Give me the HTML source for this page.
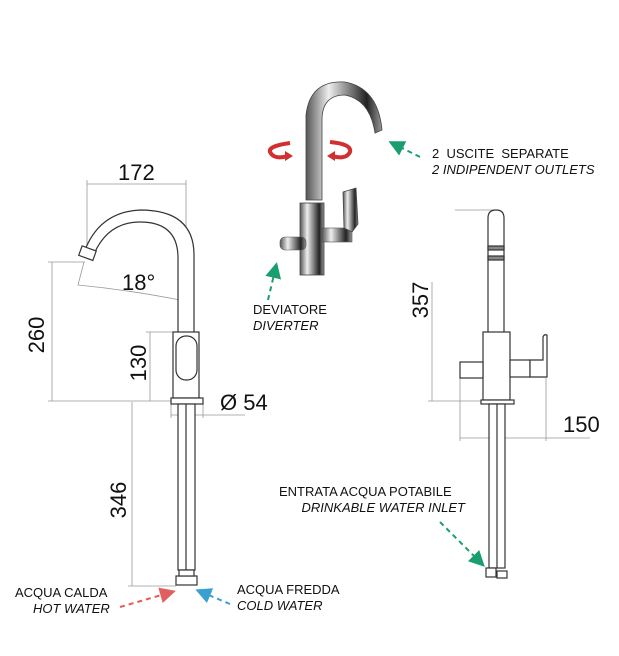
<!DOCTYPE html>
<html><head><meta charset="utf-8"><style>
html,body{margin:0;padding:0;background:#fff;}
svg{display:block;font-family:"Liberation Sans",sans-serif;}
</style></head><body>
<svg width="619" height="656" viewBox="0 0 619 656" xmlns="http://www.w3.org/2000/svg">
<defs>
<linearGradient id="chr" x1="0" x2="1" y1="0" y2="0">
<stop offset="0" stop-color="#555"/><stop offset="0.3" stop-color="#eee"/><stop offset="0.55" stop-color="#888"/><stop offset="0.8" stop-color="#222"/><stop offset="1" stop-color="#999"/>
</linearGradient>
<marker id="ag" markerWidth="8" markerHeight="8" refX="6" refY="4" orient="auto"><path d="M0,0 L8,4 L0,8z" fill="#1a9e6e"/></marker>
<marker id="ar" markerWidth="8" markerHeight="8" refX="6" refY="4" orient="auto"><path d="M0,0 L8,4 L0,8z" fill="#e06060"/></marker>
<marker id="ab" markerWidth="8" markerHeight="8" refX="6" refY="4" orient="auto"><path d="M0,0 L8,4 L0,8z" fill="#3aa0d0"/></marker>
</defs>

<!-- LEFT FAUCET -->
<g stroke="#999" stroke-width="0.8" fill="none">
<line x1="87" y1="184" x2="186" y2="184"/><line x1="87" y1="180" x2="87" y2="258"/><line x1="186" y1="180" x2="186" y2="255"/>
<line x1="52" y1="262" x2="52" y2="401"/><line x1="48" y1="262" x2="85" y2="262"/><line x1="48" y1="401" x2="172" y2="401"/>
<line x1="150" y1="332" x2="150" y2="401"/><line x1="146" y1="332" x2="173" y2="332"/>
<line x1="132" y1="402" x2="132" y2="586"/><line x1="128" y1="586" x2="176" y2="586"/>
<line x1="171" y1="415" x2="245" y2="415"/><line x1="171" y1="404" x2="171" y2="418"/><line x1="203" y1="404" x2="203" y2="418"/>
<path d="M84,262 L78,285 Q130,290 185,301"/>
</g>
<g stroke="#333" stroke-width="1.2" fill="#fff">
<path d="M194,332 L194,255 Q194,210 140,210 Q100,212 85,250 L94,254 Q108,222 140,222 Q178,222 178,258 L178,332"/>
<rect x="80" y="248" width="15" height="10" transform="rotate(20 87 253)"/>
<rect x="173" y="332" width="26" height="66"/>
<rect x="176" y="336" width="21" height="44" rx="10"/>
<rect x="171" y="398" width="32" height="6"/>
<rect x="178" y="404" width="17" height="166"/>
<line x1="186" y1="404" x2="186" y2="570"/>
<rect x="176" y="576" width="21" height="9"/>
<rect x="179" y="570" width="15" height="6"/>
</g>
<g font-size="22" fill="#111">
<text x="118" y="180">172</text>
<text x="122" y="290">18°</text>
<text x="220" y="410">Ø 54</text>
<text transform="translate(44,335) rotate(-90)" text-anchor="middle">260</text>
<text transform="translate(156,363) rotate(-90)" text-anchor="middle" x="0" y="-10">130</text>
<text transform="translate(126,500) rotate(-90)" text-anchor="middle">346</text>
</g>
<g font-size="13" fill="#111">
<text x="15" y="597">ACQUA CALDA</text>
<text x="33" y="613" font-style="italic">HOT WATER</text>
<text x="237" y="594">ACQUA FREDDA</text>
<text x="237" y="610" font-style="italic">COLD WATER</text>
</g>
<line x1="120" y1="607" x2="172" y2="592" stroke="#e06060" stroke-width="2" stroke-dasharray="5,4" marker-end="url(#ar)"/>
<line x1="230" y1="604" x2="199" y2="591" stroke="#3aa0d0" stroke-width="2" stroke-dasharray="5,4" marker-end="url(#ab)"/>

<!-- CENTER PHOTO -->
<path d="M306,200 L306,115 Q310,80 345,82 Q378,88 382,130 L375,133 Q370,100 345,95 Q322,95 322,120 L322,200z" fill="url(#chr)" stroke="#444" stroke-width="0.8"/>
<rect x="300" y="203" width="24" height="72" fill="url(#chr)" stroke="#444" stroke-width="0.8"/>
<rect x="280" y="237" width="26" height="13" rx="5" fill="url(#chr)" stroke="#555" stroke-width="0.6"/>
<rect x="322" y="228" width="30" height="14" fill="url(#chr)" stroke="#555" stroke-width="0.6"/>
<path d="M343,192 L356,188 L358,224 L352,232 L344,228z" fill="url(#chr)" stroke="#444" stroke-width="0.8"/>
<g fill="none" stroke="#d03030" stroke-width="4">
<path d="M290,143 Q268,146 270,152 Q274,160 288,156"/>
<path d="M330,142 Q352,144 350,152 Q346,160 332,156"/>
</g>
<path d="M285,151 L293,156 L285,161z" fill="#d03030"/>
<path d="M335,151 L327,156 L335,161z" fill="#d03030"/>
<line x1="420" y1="157" x2="392" y2="143" stroke="#1a9e6e" stroke-width="2" stroke-dasharray="5,4" marker-end="url(#ag)"/>
<line x1="268" y1="300" x2="276" y2="266" stroke="#1a9e6e" stroke-width="2" stroke-dasharray="5,4" marker-end="url(#ag)"/>
<g font-size="13" fill="#111">
<text x="432" y="158" xml:space="preserve">2  USCITE  SEPARATE</text>
<text x="432" y="174" font-style="italic">2 INDIPENDENT OUTLETS</text>
<text x="253" y="314">DEVIATORE</text>
<text x="253" y="330" font-style="italic">DIVERTER</text>
<text x="279" y="496">ENTRATA ACQUA POTABILE</text>
<text x="465" y="512" font-style="italic" text-anchor="end">DRINKABLE WATER INLET</text>
</g>
<line x1="440" y1="522" x2="482" y2="564" stroke="#1a9e6e" stroke-width="2" stroke-dasharray="5,4" marker-end="url(#ag)"/>

<!-- RIGHT FAUCET -->
<g stroke="#999" stroke-width="0.8" fill="none">
<line x1="455" y1="210" x2="496" y2="210"/>
<line x1="432" y1="282" x2="432" y2="401"/><line x1="428" y1="401" x2="482" y2="401"/>
<line x1="460" y1="438" x2="590" y2="438"/><line x1="460" y1="378" x2="460" y2="441"/><line x1="546" y1="378" x2="546" y2="441"/>
</g>
<g stroke="#333" stroke-width="1.2" fill="#fff">
<path d="M488,332 L488,218 Q488,210 496,210 Q504,210 504,218 L504,332"/>
<rect x="488" y="246" width="16" height="4" fill="#888"/>
<rect x="488" y="256" width="16" height="4" fill="#888"/>
<rect x="483" y="332" width="27" height="68"/>
<rect x="460" y="362" width="23" height="16"/>
<rect x="510" y="360" width="20" height="17"/>
<path d="M530,360 L543,360 L543,337 Q544,334 547,335 L547,377 L530,377z"/>
<rect x="481" y="400" width="33" height="4"/>
<rect x="489" y="404" width="16" height="164"/>
<line x1="497" y1="404" x2="497" y2="568"/>
<rect x="486" y="568" width="10" height="9"/>
<rect x="497" y="571" width="10" height="7"/>
</g>
<g font-size="22" fill="#111">
<text transform="translate(428,300) rotate(-90)" text-anchor="middle">357</text>
<text x="563" y="432">150</text>
</g>
</svg>
</body></html>
